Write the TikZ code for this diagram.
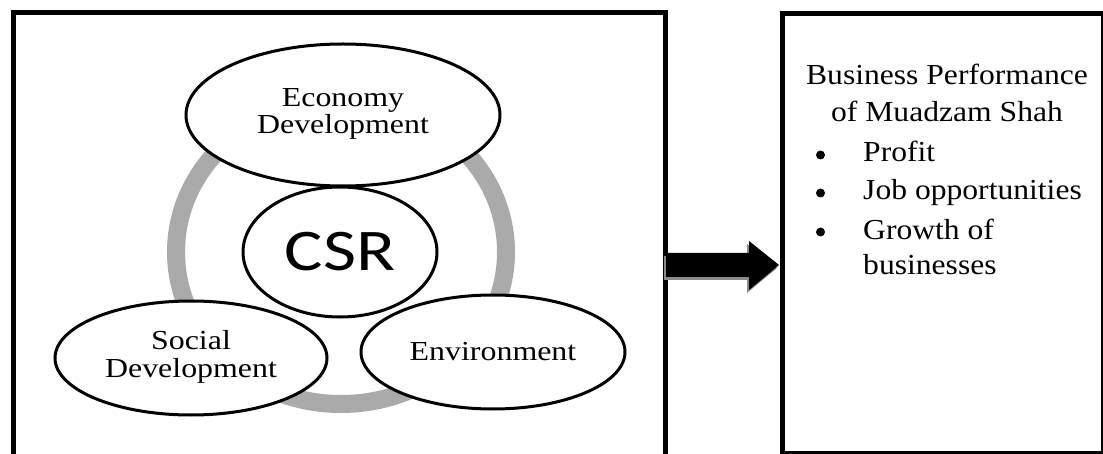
\documentclass[tikz,border=0pt]{standalone}
\usepackage{fontspec}
\setmainfont{Liberation Serif}
\newfontfamily\csrfont{Carlito}
\usetikzlibrary{shapes.geometric,calc}
\definecolor{ringgray}{HTML}{AAAAAA}
\definecolor{shadowgray}{HTML}{8A8A8A}
\begin{document}
\begin{tikzpicture}[x=1pt,y=-1pt,
  frame/.style={line width=5pt},
  bubble/.style={ellipse, draw, line width=3pt, fill=white, inner sep=0pt},
  ringline/.style={draw=ringgray, line width=18pt},
  lbl/.style={font=\fontsize{27.5}{27}\selectfont},
  rtxt/.style={font=\fontsize{29}{35}\selectfont, anchor=base, inner sep=0pt},
  dot/.style={circle, fill=black, inner sep=0pt, minimum size=9pt},
]
\useasboundingbox (0,0) rectangle (1103,454);
% left frame (open at the bottom)
\coordinate (lb1) at (13,470);
\coordinate (lb2) at (13,13);
\coordinate (lb3) at (665,13);
\coordinate (lb4) at (665,470);
\draw[frame] (lb1) -- (lb2) -- (lb3) -- (lb4);
% right frame
\node[draw, line width=5pt, minimum width=321pt, minimum height=440pt, inner sep=0pt, anchor=north west] (perf) at (780,11) {};
% gray ring
\node[ellipse, ringline, minimum width=330pt, minimum height=304pt, inner sep=0pt] (ring) at (341,252) {};
% bubbles
\node[bubble, minimum width=194pt, minimum height=130pt] (csr) at (340,252)
  {\csrfont\fontsize{59}{59}\selectfont\raisebox{2pt}{\scalebox{1.22}[1]{CSR}}};
\node[bubble, lbl, minimum width=314pt, minimum height=142pt] (eco) at (343,115)
  {\scalebox{1.16}[1]{\begin{tabular}{@{}c@{}}Economy\\Development\end{tabular}}};
\node[bubble, lbl, minimum width=272pt, minimum height=114pt] (soc) at (191,358)
  {\scalebox{1.16}[1]{\begin{tabular}{@{}c@{}}Social\\Development\end{tabular}}};
\node[bubble, lbl, minimum width=264pt, minimum height=114pt] (env) at (493,352)
  {\scalebox{1.16}[1]{Environment}};
% arrow
\coordinate (as) at (666,265);
\coordinate (ae) at (779,265);
\begin{scope}[transform canvas={shift={(-2pt,-3pt)}}]
\fill[shadowgray] (as) ++(0,-12) -- ++(83,0) -- ++(0,-12) -- (ae) -- ++(-30,25) -- ++(0,-13) -- ++(-83,0) -- cycle;
\end{scope}
\fill[black] (as) ++(0,-12) -- ++(83,0) -- ++(0,-12) -- (ae) -- ++(-30,25) -- ++(0,-13) -- ++(-83,0) -- cycle;
% right text
\node[rtxt] (t1) at (947,85) {\scalebox{1.09}[1]{Business Performance}};
\node[rtxt] (t2) at (947,122) {\scalebox{1.09}[1]{of Muadzam Shah}};
\node[dot] (b1) at (820.5,155) {};
\node[dot] (b2) at (820.5,193) {};
\node[dot] (b3) at (820.5,232) {};
\node[rtxt, anchor=base west] (i1) at (863,162) {\scalebox{1.09}[1]{Profit}};
\node[rtxt, anchor=base west] (i2) at (863,200) {\scalebox{1.09}[1]{Job opportunities}};
\node[rtxt, anchor=base west] (i3) at (863,240) {\scalebox{1.09}[1]{Growth of}};
\node[rtxt, anchor=base west] (i4) at (863,275) {\scalebox{1.09}[1]{businesses}};
\end{tikzpicture}
\end{document}
